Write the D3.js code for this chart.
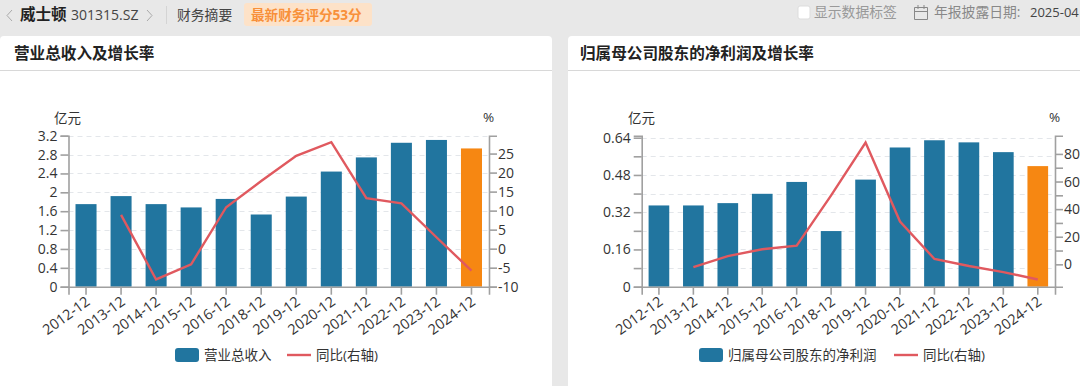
<!DOCTYPE html>
<html>
<head>
<meta charset="utf-8">
<script src="https://cdn.jsdelivr.net/npm/d3@7"></script>
<style>
html,body{margin:0;padding:0;background:#e8e8e8;overflow:hidden}
text{font-family:"Open Sans","Noto Sans CJK SC",sans-serif}
</style>
</head>
<body>
<svg id="page" width="1080" height="386"></svg>
<script>
var periods = ["2012-12","2013-12","2014-12","2015-12","2016-12","2018-12","2019-12","2020-12","2021-12","2022-12","2023-12","2024-12"];

var revenue = [1.75,1.92,1.75,1.68,1.86,1.53,1.91,2.44,2.74,3.05,3.11,2.93];
var revenueYoy = [null,8.9,-8.1,-4.1,10.9,17.8,24.4,28,13.3,11.9,3,-5.8];
var revenueTicks = [0,0.4,0.8,1.2,1.6,2,2.4,2.8,3.2];
var revenueYoyTicks = [-10,-5,0,5,10,15,20,25];

var profit = [0.349,0.349,0.359,0.399,0.45,0.239,0.46,0.598,0.629,0.62,0.578,0.518];
var profitYoy = [null,-2,6,10.9,13.5,50,88.2,31,3.9,-1.2,-5.6,-11];
var profitTicks = [0,0.08,0.16,0.24,0.32,0.4,0.48,0.56,0.64];
var profitYoyTicks = [0,10,20,30,40,50,60,70,80];

var blue = "#21759f", orange = "#f68712", red = "#e0595f", axisCol = "#a0a0a0", textCol = "#333";

var svg = d3.select("#page");

// top bar
function label(x, y, s, size, col, weight) {
  return svg.append("text").attr("x", x).attr("y", y).attr("font-size", size)
    .attr("fill", col).attr("font-weight", weight || 400).text(s);
}
svg.append("path").attr("d", "M12 10l-5 5.5l5 5.5M147 10l5 5.5l-5 5.5").attr("fill", "none").attr("stroke", "#aaa");
label(20, 20, "威士顿", 15.5, "#222", 700);
label(71, 20, "301315.SZ", 14, "#444");
svg.append("line").attr("x1", 166.5).attr("x2", 166.5).attr("y1", 6).attr("y2", 24).attr("stroke", "#d4d4d4");
label(177, 20, "财务摘要", 13.8, "#444");
svg.append("rect").attr("x", 244).attr("y", 3).attr("width", 128).attr("height", 23).attr("rx", 3).attr("fill", "#fde2c8");
label(251, 20, "最新财务评分53分", 13.6, "#f8903a", 700);
svg.append("rect").attr("x", 798).attr("y", 6).attr("width", 12).attr("height", 13).attr("rx", 2).attr("fill", "#fff").attr("stroke", "#ddd");
label(814, 17, "显示数据标签", 13.8, "#999");
svg.append("path").attr("d", "M914.5 7.5h13v12h-13zM914.5 11.5h13M918 5v4M924 5v4").attr("fill", "none").attr("stroke", "#888");
label(934, 17, "年报披露日期:", 13.8, "#888");
label(1030, 17, "2025-04", 13, "#444");

function drawChart(o) {
  var g = svg.append("g");
  var top = 135.7, bottom = 286.7;

  g.append("rect").attr("x", o.cardX).attr("y", 36).attr("width", o.cardW).attr("height", 360).attr("rx", 4).attr("fill", "#fff");
  g.append("line").attr("x1", o.cardX).attr("x2", o.cardX + o.cardW).attr("y1", 70.5).attr("y2", 70.5).attr("stroke", "#d8d8d8");
  g.append("text").attr("x", o.titleX).attr("y", 59).attr("font-size", 15.6).attr("font-weight", 700).attr("fill", "#222").text(o.title);

  var x = d3.scaleBand().domain(periods).range([o.left, o.right]).paddingInner(0.4).paddingOuter(0.2);
  var y = d3.scaleLinear().domain(o.yDomain).range([bottom, top]);
  var y2 = d3.scaleLinear().domain(o.y2Domain).range([bottom, top]);

  // grid
  g.append("g").selectAll("line").data(o.yTicks.filter(function(d){ return d > 0; })).join("line")
    .attr("x1", o.left).attr("x2", o.right)
    .attr("y1", function(d){ return Math.round(y(d)) + 0.5; }).attr("y2", function(d){ return Math.round(y(d)) + 0.5; })
    .attr("stroke", "#e3e6ea").attr("stroke-dasharray", "5,4");

  // bars
  g.append("g").selectAll("rect").data(o.bars).join("rect")
    .attr("x", function(d, i){ return x(periods[i]); })
    .attr("width", x.bandwidth())
    .attr("y", function(d){ return y(d); })
    .attr("height", function(d){ return bottom - y(d); })
    .attr("fill", function(d, i){ return i == periods.length - 1 ? orange : blue; });

  // yoy line
  var line = d3.line()
    .defined(function(d){ return d !== null; })
    .x(function(d, i){ return x(periods[i]) + x.bandwidth() / 2; })
    .y(function(d){ return y2(d); });
  g.append("path").attr("d", line(o.yoy)).attr("fill", "none").attr("stroke", red).attr("stroke-width", 2.4);

  // axes
  var left = g.append("g").attr("transform", "translate(" + o.left + ",0)")
    .call(d3.axisLeft(y).tickValues(o.yTicks).tickSize(8).tickPadding(3).tickFormat(o.yFormat));
  var right = g.append("g").attr("transform", "translate(" + o.right + ",0)")
    .call(d3.axisRight(y2).tickValues(o.y2Ticks).tickSize(8).tickPadding(1).tickFormat(o.y2Format));
  var bot = g.append("g").attr("transform", "translate(0," + bottom + ")")
    .call(d3.axisBottom(x).tickSize(8).tickPadding(3));
  bot.selectAll("text").attr("text-anchor", "end").attr("x", 0).attr("y", 0).attr("dy", 0)
    .attr("transform", "translate(5,17) rotate(-36)");
  [left, right, bot].forEach(function(a) {
    a.selectAll("path,line").attr("stroke", axisCol).attr("stroke-width", 1.6);
    a.selectAll("text").attr("font-size", 14).attr("fill", textCol)
      .attr("font-family", "\"Open Sans\",sans-serif");
  });
  bot.selectAll("text").attr("font-size", 14.4);

  // unit labels
  g.append("text").attr("x", o.unitX).attr("y", 123).attr("font-size", 13.5).attr("fill", textCol).text("亿元");
  g.append("text").attr("x", o.pctX).attr("y", 122).attr("font-size", 13.5).attr("fill", textCol).text("%");

  // legend
  g.append("rect").attr("x", o.legX).attr("y", 348).attr("width", 24).attr("height", 14).attr("rx", 3).attr("fill", blue);
  g.append("text").attr("x", o.legX + 29).attr("y", 359.5).attr("font-size", 13.5).attr("fill", textCol).text(o.barName);
  g.append("line").attr("x1", o.leg2X).attr("x2", o.leg2X + 24).attr("y1", 355).attr("y2", 355).attr("stroke", red).attr("stroke-width", 2.4);
  g.append("text").attr("x", o.leg2X + 29).attr("y", 359.5).attr("font-size", 13.5).attr("fill", textCol).text("同比(右轴)");
}

drawChart({
  cardX: 0, cardW: 552, titleX: 14, left: 68.5, right: 489,
  title: "营业总收入及增长率", barName: "营业总收入",
  bars: revenue, yoy: revenueYoy,
  yDomain: [0, 3.2], yTicks: revenueTicks, yFormat: function(d){ return d; },
  y2Domain: [-10, 29.7], y2Ticks: revenueYoyTicks, y2Format: function(d){ return d; },
  unitX: 54, pctX: 483, legX: 175, leg2X: 287
});

drawChart({
  cardX: 568, cardW: 520, titleX: 580, left: 641.7, right: 1055,
  title: "归属母公司股东的净利润及增长率", barName: "归属母公司股东的净利润",
  bars: profit, yoy: profitYoy,
  yDomain: [0, 0.6486], yTicks: profitTicks,
  yFormat: function(d, i){ return i % 2 == 0 ? d : ""; },
  y2Domain: [-16.2, 93.2], y2Ticks: profitYoyTicks,
  y2Format: function(d, i){ return i % 2 == 0 ? d : ""; },
  unitX: 628, pctX: 1049, legX: 699, leg2X: 894
});
</script>
</body>
</html>
